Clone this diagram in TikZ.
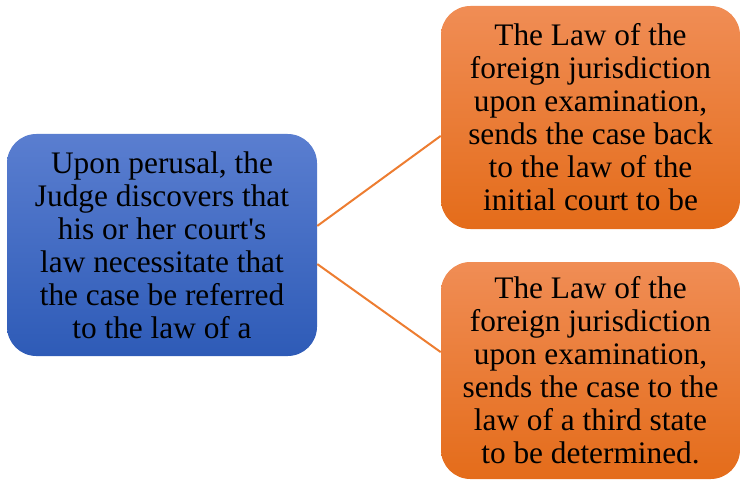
\documentclass[tikz,border=0pt]{standalone}
\usepackage{fontspec}
\setmainfont{Liberation Serif}
\usepackage{tikz}

\definecolor{blueTop}{HTML}{5A7ED0}
\definecolor{blueBot}{HTML}{2E5BB7}
\definecolor{orangeTop}{HTML}{F08D55}
\definecolor{orangeBot}{HTML}{E46C1A}
\definecolor{linkOrange}{HTML}{ED7D31}

\begin{document}
\begin{tikzpicture}[x=0.75pt,y=-0.75pt]
                \useasboundingbox (0,0) rectangle (741,481);
                \begin{scope}[every node/.style={rounded corners=22pt, align=center, inner sep=0pt, font=\fontsize{23.5}{24.75}\selectfont}]
                        \node [top color=blueTop, bottom color=blueBot, minimum width=232.5pt, minimum height=166.5pt] (J) at (162,245) {Upon perusal, the\\Judge discovers that\\his or her court\textquotesingle s\\law necessitate that\\the case be referred\\to the law of a};
                        \node [top color=orangeTop, bottom color=orangeBot, minimum width=224.25pt, minimum height=167.25pt] (Back) at (590.5,117.5) {The Law of the\\foreign jurisdiction\\upon examination,\\sends the case back\\to the law of the\\initial court to be};
                        \node [top color=orangeTop, bottom color=orangeBot, minimum width=224.25pt, minimum height=162.75pt] (Third) at (590.5,370.5) {The Law of the\\foreign jurisdiction\\upon examination,\\sends the case to the\\law of a third state\\to be determined.};
                \end{scope}

                \begin{scope}[every path/.style={linkOrange, line width=1.5pt}]
                        \path (J.7.4) edge (Back.187.4);
                        \path (J.-7.4) edge (Third.173);
                \end{scope}
        \end{tikzpicture}
\end{document}
